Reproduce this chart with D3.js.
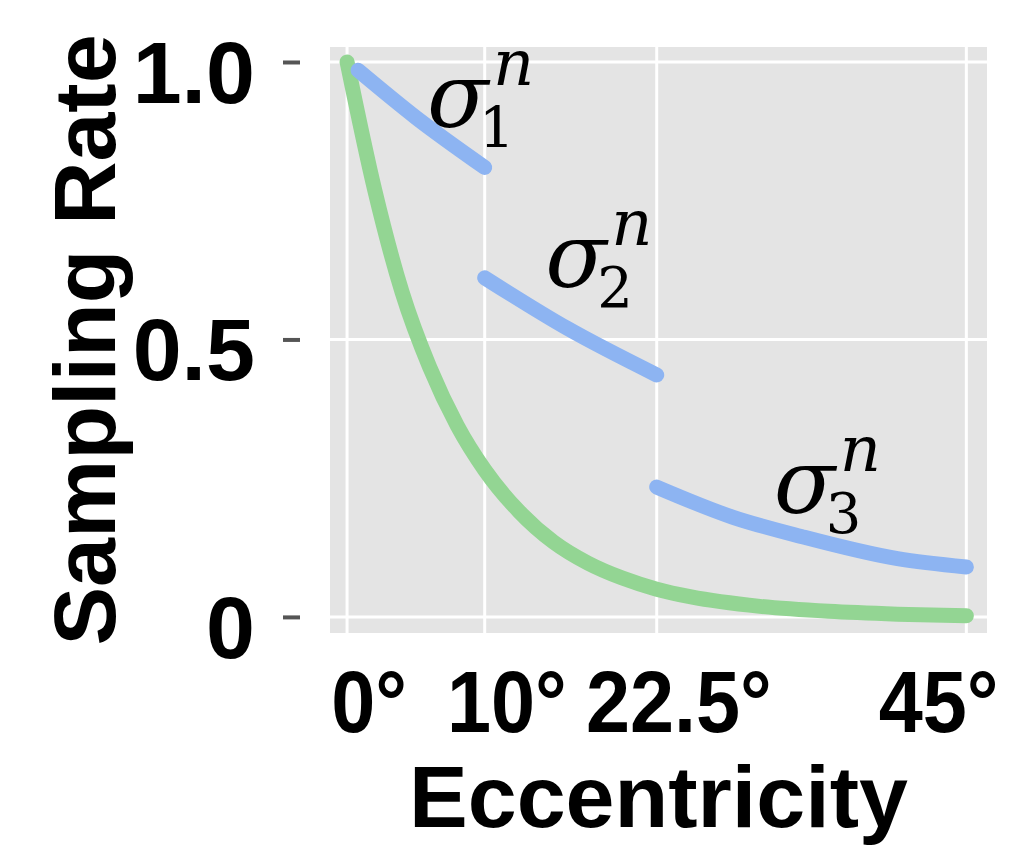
<!DOCTYPE html>
<html lang="en">
<head>
    <meta charset="UTF-8"/>
    <title>Sampling rate vs eccentricity</title>
    <script src="https://d3js.org/d3.v7.min.js"></script>
    <style>
        body { margin: 0; background: #fff; }
        text { font-family: "Liberation Sans", Arial, sans-serif; font-weight: bold; fill: #000; }
        .sigma text { font-family: "DejaVu Serif", serif; font-weight: normal; }
    </style>
</head>
<body>
<div id="chart"></div>
<script>
    // axis ticks
    const xTicks = [0, 10, 22.5, 45];
    const xTickLabels = ["0°", "10°", "22.5°", "45°"];
    const yTicks = [0, 0.5, 1];
    const yTickLabels = ["0", "0.5", "1.0"];

    // green curve
    const greenEcc  = [0, 2, 4, 6, 8, 10, 12.5, 15, 17.5, 20, 22.5, 25, 30, 35, 40, 45];
    const greenRate = [1.0, 0.77, 0.585, 0.45, 0.345, 0.265, 0.19, 0.135, 0.097, 0.07, 0.05, 0.036, 0.019, 0.01, 0.005, 0.002];

    // blue segments, one per sigma
    const sigma1Ecc  = [0.8, 5, 10];
    const sigma1Rate = [0.985, 0.9, 0.81];
    const sigma2Ecc  = [10, 16, 22.5];
    const sigma2Rate = [0.611, 0.52, 0.436];
    const sigma3Ecc  = [22.5, 28, 33, 40, 45];
    const sigma3Rate = [0.234, 0.18, 0.145, 0.105, 0.09];

    // sigma labels
    const sigmaIndex = ["1", "2", "3"];
    const sigmaLabelEcc = [5.8, 14.4, 31.0];
    const sigmaLabelRate = [0.883, 0.595, 0.187];

    const W = 1029, H = 846;
    const panel = {left: 330, top: 47, right: 987, bottom: 633};

    const svg = d3.select("#chart").append("svg")
        .attr("width", W).attr("height", H);

    const x = d3.scaleLinear().domain([-1.24, 46.5]).range([panel.left, panel.right]);
    const y = d3.scaleLinear().domain([-0.029, 1.027]).range([panel.bottom, panel.top]);

    // panel background
    svg.append("rect")
        .attr("x", panel.left).attr("y", panel.top)
        .attr("width", panel.right - panel.left).attr("height", panel.bottom - panel.top)
        .attr("fill", "#e4e4e4");

    // grid
    svg.append("g").selectAll("line").data(xTicks).join("line")
        .attr("x1", d => x(d)).attr("x2", d => x(d))
        .attr("y1", panel.top).attr("y2", panel.bottom)
        .attr("stroke", "#fff").attr("stroke-width", 3);
    svg.append("g").selectAll("line").data(yTicks).join("line")
        .attr("y1", d => y(d)).attr("y2", d => y(d))
        .attr("x1", panel.left).attr("x2", panel.right)
        .attr("stroke", "#fff").attr("stroke-width", 3);

    const line = d3.line()
        .x(d => x(d[0]))
        .y(d => y(d[1]))
        .curve(d3.curveMonotoneX);

    // green curve
    svg.append("path")
        .datum(d3.zip(greenEcc, greenRate))
        .attr("fill", "none")
        .attr("stroke", "#93d593")
        .attr("stroke-width", 15)
        .attr("stroke-linecap", "round")
        .attr("d", line);

    // blue segments
    const blue = [d3.zip(sigma1Ecc, sigma1Rate), d3.zip(sigma2Ecc, sigma2Rate), d3.zip(sigma3Ecc, sigma3Rate)];
    svg.append("g").selectAll("path").data(blue).join("path")
        .attr("fill", "none")
        .attr("stroke", "#8db4f2")
        .attr("stroke-width", 15)
        .attr("stroke-linecap", "round")
        .attr("d", line);

    // sigma labels: σ with subscript index and superscript n
    const lab = svg.append("g").attr("class", "sigma").selectAll("text").data(sigmaIndex).join("text")
        .attr("transform", (d, i) => "translate(" + x(sigmaLabelEcc[i]) + "," + y(sigmaLabelRate[i]) + ")");
    lab.append("tspan").text("σ").attr("x", 0).attr("y", 0)
        .style("font-style", "italic").style("font-size", "90px");
    lab.append("tspan").text(d => d).attr("x", 52).attr("y", 20).style("font-size", "56px");
    lab.append("tspan").text("n").attr("x", 66).attr("y", -42)
        .style("font-style", "italic").style("font-size", "64px");

    // y axis
    const yAxis = svg.append("g")
        .attr("transform", "translate(300,0)")
        .call(d3.axisLeft(y).tickValues(yTicks).tickSize(17).tickPadding(28)
            .tickFormat((d, i) => yTickLabels[i]));
    yAxis.select(".domain").remove();
    yAxis.selectAll(".tick line").attr("stroke", "#555").attr("stroke-width", 4);
    yAxis.selectAll(".tick text").style("font-size", "88px").attr("dy", "0.46em");

    // x axis (labels slightly condensed, as in the original)
    const xAxis = svg.append("g")
        .attr("transform", "translate(0," + panel.bottom + ")")
        .call(d3.axisBottom(x).tickValues(xTicks).tickSize(0).tickPadding(37)
            .tickFormat((d, i) => xTickLabels[i]));
    xAxis.select(".domain").remove();
    xAxis.selectAll(".tick text")
        .style("font-size", "88px")
        .attr("dx", 24)
        .attr("transform", "scale(0.9,1)");
    // keep the last label inside the window
    xAxis.selectAll(".tick text").each(function() {
        const b = this.getBBox();
        const tx = +this.parentNode.getAttribute("transform").match(/translate\(([-\d.]+)/)[1];
        const right = tx + 0.9 * (b.x + b.width + 24);
        if (right > W - 9) d3.select(this).attr("dx", 24 - (right - (W - 9)) / 0.9);
    });

    // axis titles
    svg.append("text")
        .attr("x", (panel.left + panel.right) / 2).attr("y", 827)
        .attr("text-anchor", "middle")
        .style("font-size", "88px")
        .text("Eccentricity");
    svg.append("text")
        .attr("transform", "translate(115," + ((panel.top + panel.bottom) / 2) + ") rotate(-90)")
        .attr("text-anchor", "middle")
        .style("font-size", "88px")
        .text("Sampling Rate");
</script>
</body>
</html>
